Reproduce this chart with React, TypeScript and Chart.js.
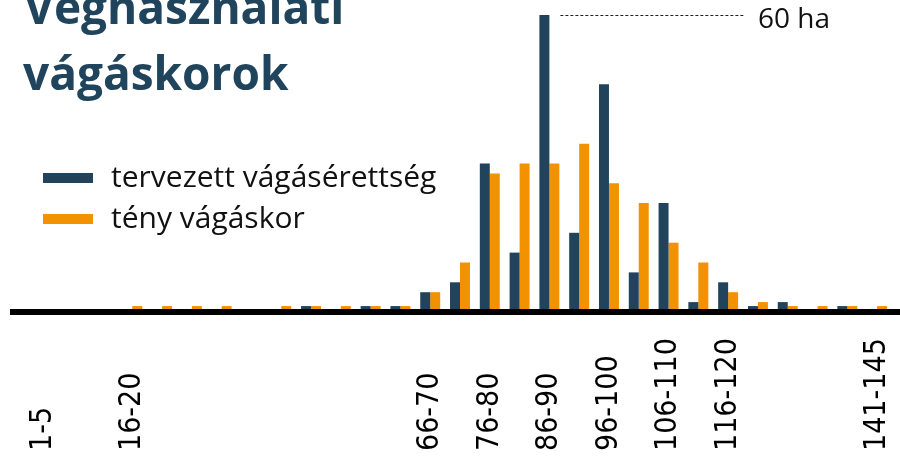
import React, { useEffect, useRef } from "react";
import { Chart, registerables } from "chart.js";

Chart.register(...registerables);

const titleLines = ["Véghasználati", "vágáskorok"];

const categories = [
  "1-5", "6-10", "11-15", "16-20", "21-25", "26-30", "31-35", "36-40",
  "41-45", "46-50", "51-55", "56-60", "61-65", "66-70", "71-75", "76-80",
  "81-85", "86-90", "91-95", "96-100", "101-105", "106-110", "111-115",
  "116-120", "121-125", "126-130", "131-135", "136-140", "141-145",
];

const shownTickLabels = [
  "1-5", "16-20", "66-70", "76-80", "86-90", "96-100", "106-110", "116-120", "141-145",
];

const plannedLabel = "tervezett vágásérettség";
const actualLabel = "tény vágáskor";

const planned = [0, 0, 0, 0, 0, 0, 0, 0, 0, 1.2, 0, 1.2, 1.2, 4, 6, 30, 12, 60, 16, 46, 8, 22, 2, 6, 1.2, 2, 0, 1.2, 0];
const actual = [0, 0, 0, 1.2, 1.2, 1.2, 1.2, 0, 1.2, 1.2, 1.2, 1.2, 1.2, 4, 10, 28, 30, 30, 34, 26, 22, 14, 10, 4, 2, 1.2, 1.2, 1.2, 1.2];

const unit = "ha";

const DARK = "#21435b";
const ORANGE = "#f29200";
const TITLE = "#21445d";

const overlay = {
  id: "overlay",
  afterDatasetsDraw(chart: any) {
    const { ctx, chartArea, scales } = chart;
    const x = scales.x;
    const y = scales.y;
    ctx.save();

    // axis line
    ctx.fillStyle = "#000";
    ctx.fillRect(10, chartArea.bottom - 3, chart.width - 10, 6);

    // rotated tick labels, bottom aligned
    ctx.font = '27px "DejaVu Sans"';
    ctx.fillStyle = "#000";
    ctx.textAlign = "left";
    ctx.textBaseline = "middle";
    categories.forEach((c, i) => {
      if (!shownTickLabels.includes(c)) return;
      const px = x.getPixelForValue(i);
      ctx.save();
      ctx.translate(px, 451);
      ctx.rotate(-Math.PI / 2);
      ctx.scale(1, 1.1);
      ctx.fillText(c, 0, 0);
      ctx.restore();
    });

    // peak annotation
    const peak = Math.max(...planned);
    const peakIdx = planned.indexOf(peak);
    const el = chart.getDatasetMeta(1).data[peakIdx];
    const py = Math.round(y.getPixelForValue(peak)) + 0.5;
    const sx = el.x + el.width / 2 + 1;
    ctx.strokeStyle = "#222";
    ctx.lineWidth = 1;
    ctx.setLineDash([3, 2]);
    ctx.beginPath();
    ctx.moveTo(sx, py);
    ctx.lineTo(745, py);
    ctx.stroke();
    ctx.setLineDash([]);
    ctx.font = '28px "Open Sans"';
    ctx.fillStyle = "#111";
    ctx.textBaseline = "alphabetic";
    ctx.textAlign = "left";
    ctx.fillText(`${peak} ${unit}`, 758, 28);

    // title
    ctx.font = 'bold 46px "Open Sans"';
    ctx.fillStyle = TITLE;
    ctx.fillText(titleLines[0], 24, 24);
    ctx.fillText(titleLines[1], 23, 90);

    // legend
    const ds = chart.data.datasets;
    const rows = [178, 219];
    ds.forEach((d: any, i: number) => {
      ctx.fillStyle = d.backgroundColor;
      ctx.fillRect(43, rows[i] - 5, 50, 10);
      ctx.fillStyle = "#111";
      ctx.font = '30px "Open Sans"';
      ctx.textBaseline = "alphabetic";
      ctx.fillText(d.label, 111, rows[i] + 9);
    });

    ctx.restore();
  },
};

export default function App() {
  const ref = useRef<HTMLCanvasElement | null>(null);

  useEffect(() => {
    document.body.style.margin = "0";
    if (!ref.current) return;
    const chart = new Chart(ref.current, {
      type: "bar",
      data: {
        labels: categories,
        datasets: [
          { label: plannedLabel, data: planned, backgroundColor: DARK, categoryPercentage: 0.67, barPercentage: 1 },
          { label: actualLabel, data: actual, backgroundColor: ORANGE, categoryPercentage: 0.67, barPercentage: 1 },
        ],
      },
      options: {
        responsive: false,
        animation: false,
        layout: { padding: { left: 28, right: 8, top: 15, bottom: 144 } },
        plugins: { legend: { display: false }, tooltip: { enabled: false }, title: { display: false } },
        scales: {
          x: { display: false, grid: { display: false } },
          y: { display: false, min: 0, max: 60 },
        },
      },
      plugins: [overlay],
    });
    return () => chart.destroy();
  }, []);

  return (
    <div style={{ width: 900, height: 456 }}>
      <canvas ref={ref} width={900} height={456} style={{ display: "block" }} />
    </div>
  );
}
